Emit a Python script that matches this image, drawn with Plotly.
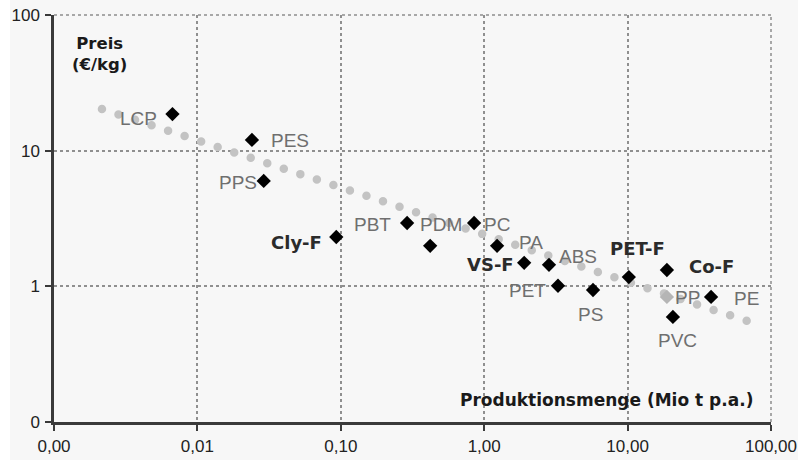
import math
import plotly.graph_objects as go

# ---------------- data ----------------
labels = ["LCP", "PES", "PPS", "Cly-F", "PBT", "PDM", "PC", "PA", "VS-F", "ABS",
          "PET", "PS", "PET-F", "Co-F", "PP", "PVC", "PE"]
produktion = [0.0067, 0.024, 0.029, 0.093, 0.29, 0.42, 0.85, 1.23, 1.9, 2.83,
              3.27, 5.74, 10.2, 18.8, 18.8, 20.7, 38.2]          # Mio t p.a.
preis = [18.6, 12.0, 5.98, 2.31, 2.93, 1.99, 2.93, 1.99, 1.49, 1.44,
         1.01, 0.94, 1.17, 1.32, 0.835, 0.595, 0.835]              # EUR/kg
bold_labels = ["Cly-F", "VS-F", "PET-F", "Co-F"]
faded_points = ["PP"]

trend_x = [0.00216, 71.4]
trend_y = [20.3, 0.547]

x_tickvals = [0.001, 0.01, 0.1, 1, 10, 100]
x_ticktext = ["0,00", "0,01", "0,10", "1,00", "10,00", "100,00"]
y_tickvals = [0.1, 1, 10, 100]
y_ticktext = ["0", "1", "10", "100"]

# label offsets in pixels (dx right, dy up) relative to their point
label_offsets = {
    "LCP": (-34, -4), "PES": (38, -1), "PPS": (-26, -2), "Cly-F": (-40, -5),
    "PBT": (-35, -2), "PDM": (11, 21), "PC": (23, -2), "PA": (34, 3),
    "VS-F": (-34, -2), "ABS": (29, 8), "PET": (-30, -5), "PS": (-3, -25),
    "PET-F": (9, 29), "Co-F": (45, 3), "PP": (21, -1), "PVC": (5, -24),
    "PE": (35, -2),
}

# ---------------- figure ----------------
fig = go.Figure()

fig.add_trace(go.Scatter(
    x=trend_x, y=trend_y, mode="lines",
    line=dict(color="#c3c3c3", width=8.5, dash="0px,17.4px"),
    hoverinfo="skip", showlegend=False,
))

colors = ["#b5b5b5" if l in faded_points else "#000000" for l in labels]
fig.add_trace(go.Scatter(
    x=produktion, y=preis, mode="markers",
    marker=dict(symbol="diamond", size=11, color=colors, line=dict(width=0)),
    text=labels, showlegend=False,
))

for lab, xv, yv in zip(labels, produktion, preis):
    dx, dy = label_offsets[lab]
    isb = lab in bold_labels
    fig.add_annotation(
        x=math.log10(xv), y=math.log10(yv), xref="x", yref="y",
        text=f"<b>{lab}</b>" if isb else lab, showarrow=False,
        xshift=dx, yshift=dy, xanchor="center", yanchor="middle",
        font=dict(family="DejaVu Sans" if isb else "Liberation Sans, Arial",
                  size=18 if isb else 19,
                  color="#2b2b2b" if isb else "#6f6f6f"),
    )

fig.add_annotation(
    x=0.064, y=0.903, xref="paper", yref="paper", showarrow=False,
    text="<b>Preis<br>(€/kg)</b>", xanchor="center", yanchor="middle",
    font=dict(family="DejaVu Sans", size=16.5, color="#1a1a1a"),
)
fig.add_annotation(
    x=0.770, y=0.054, xref="paper", yref="paper", showarrow=False,
    text="<b>Produktionsmenge (Mio t p.a.)</b>", xanchor="center", yanchor="middle",
    font=dict(family="DejaVu Sans", size=17, color="#1a1a1a"),
)

axis_common = dict(
    type="log", showgrid=True, gridcolor="#8f8f8f", gridwidth=1.5, griddash="dot",
    showline=True, linecolor="#3a3a3a", linewidth=2.5, ticks="outside", ticklen=6,
    tickwidth=2, tickcolor="#3a3a3a", zeroline=False, automargin=False,
    tickfont=dict(family="Liberation Sans, Arial", size=17, color="#222222"),
)
fig.update_xaxes(range=[-3, 2], tickvals=x_tickvals, ticktext=x_ticktext,
                 ticklabelstandoff=1, **axis_common)
fig.update_yaxes(range=[-1, 2], tickvals=y_tickvals, ticktext=y_ticktext,
                 ticklabelstandoff=2, **axis_common)

grid_dot = dict(color="#8f8f8f", width=1.5, dash="dot")
fig.update_layout(
    width=810, height=460,
    margin=dict(l=54, r=39, t=15, b=38),
    paper_bgcolor="#f7f7f7", plot_bgcolor="#f7f7f7",
    showlegend=False,
    shapes=[
        dict(type="rect", xref="paper", yref="paper", x0=1.0377, x1=1.1, y0=-0.2, y1=1.1,
             fillcolor="#ffffff", line=dict(width=0), layer="below"),
        dict(type="rect", xref="paper", yref="paper", x0=-0.2, x1=-0.0614, y0=-0.2, y1=1.1,
             fillcolor="#ffffff", line=dict(width=0), layer="below"),
        dict(type="line", xref="paper", yref="paper", x0=0, x1=1, y0=1, y1=1,
             line=grid_dot, layer="below"),
        dict(type="line", xref="paper", yref="paper", x0=1, x1=1, y0=0, y1=1,
             line=grid_dot, layer="below"),
    ],
)

post = """
document.body.style.margin='0';
var tr = document.querySelectorAll('.scatterlayer .trace');
if (tr.length) { tr[0].querySelectorAll('path.js-line').forEach(function(p){ p.style.strokeLinecap='round'; }); }
"""
fig.write_html("out.html", post_script=post, config={"displayModeBar": False})
